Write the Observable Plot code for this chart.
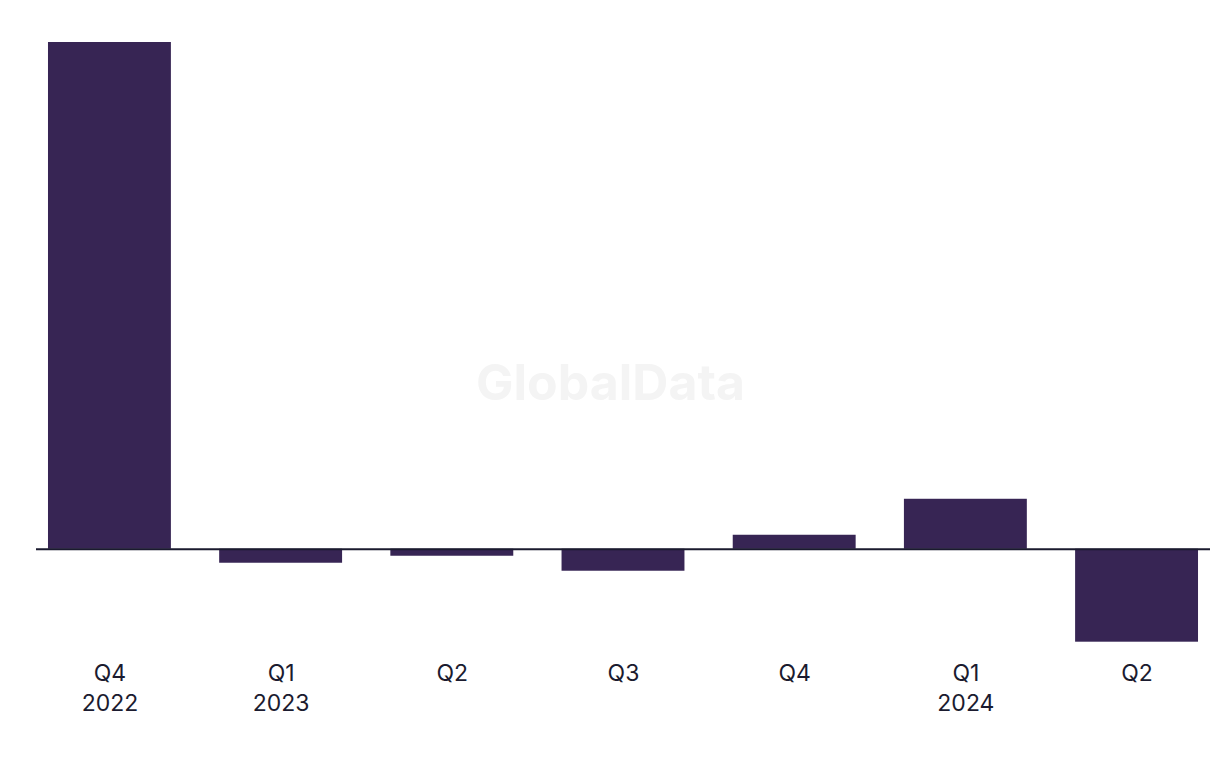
<!DOCTYPE html>
<html>
<head>
<meta charset="utf-8">
<script src="https://cdn.jsdelivr.net/npm/d3@7"></script>
<script src="https://cdn.jsdelivr.net/npm/@observablehq/plot@0.6"></script>
<style>
  html, body { margin: 0; padding: 0; background: #ffffff; }
  #chart { width: 1220px; height: 768px; }
</style>
</head>
<body>
<div id="chart"></div>
<script>
const periods = ["Q4 2022", "Q1 2023", "Q2 2023", "Q3 2023", "Q4 2023", "Q1 2024", "Q2 2024"];
const tickLabels = ["Q4\n2022", "Q1\n2023", "Q2", "Q3", "Q4", "Q1\n2024", "Q2"];
const values = [50.7, -1.4, -0.7, -2.2, 1.4, 5.0, -9.3];
const watermark = "GlobalData";

const data = periods.map((p, i) => ({period: p, value: values[i]}));
const labelOf = new Map(periods.map((p, i) => [p, tickLabels[i]]));

const chart = Plot.plot({
  width: 1220,
  height: 768,
  marginTop: 42,
  marginLeft: 36,
  marginRight: 10,
  marginBottom: 126.3,
  style: {fontFamily: "Inter, 'Liberation Sans', sans-serif", background: "#ffffff"},
  x: {domain: periods, paddingInner: 0.282, paddingOuter: 0.07, label: null, round: false},
  y: {domain: [-9.3, 50.7], axis: null},
  marks: [
    Plot.text([watermark], {frameAnchor: "middle", dx: -13, dy: 42, text: d => d, fontSize: 50, fontWeight: 700, fill: "#f4f4f4"}),
    Plot.barY(data, {x: "period", y: "value", fill: "#372554"}),
    Plot.ruleY([0], {stroke: "#1a1a2e", strokeWidth: 2}),
    Plot.axisX({tickSize: 0, tickPadding: 18, tickFormat: d => labelOf.get(d), fontSize: 23, lineHeight: 1.3, fill: "#1b1b2f", label: null})
  ]
});
document.getElementById("chart").appendChild(chart);
</script>
</body>
</html>
